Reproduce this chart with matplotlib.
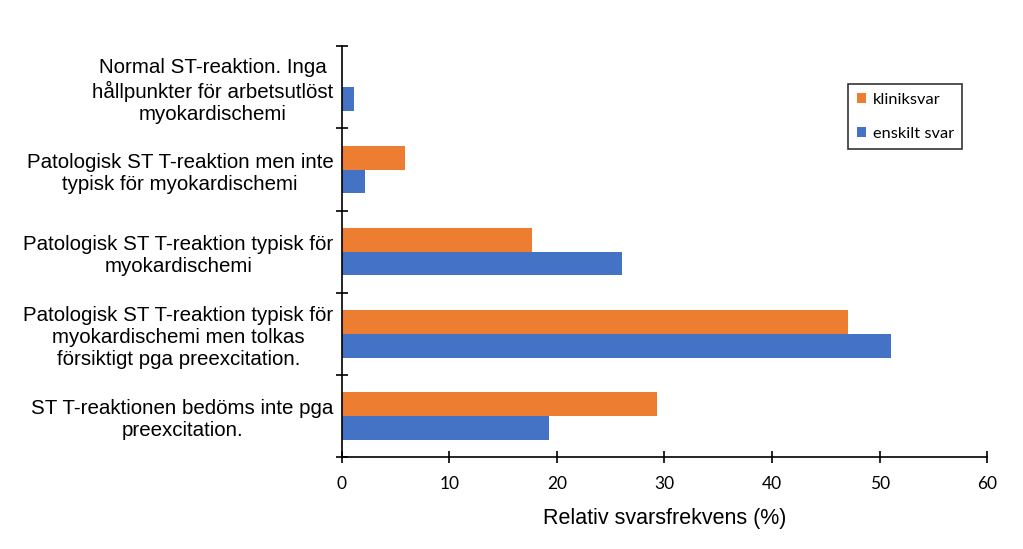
import matplotlib.pyplot as plt
import numpy as np

# data (top to bottom)
categories = [
    'Normal ST-reaktion. Inga\nhållpunkter för arbetsutlöst\nmyokardischemi',
    'Patologisk ST T-reaktion men inte\ntypisk för myokardischemi',
    'Patologisk ST T-reaktion typisk för\nmyokardischemi',
    'Patologisk ST T-reaktion typisk för\nmyokardischemi men tolkas\nförsiktigt pga preexcitation.',
    'ST T-reaktionen bedöms inte pga\npreexcitation.',
]
kliniksvar = [0.0, 5.9, 17.7, 47.1, 29.3]
enskilt_svar = [1.1, 2.2, 26.1, 51.1, 19.3]
x_ticks = [0, 10, 20, 30, 40, 50, 60]

orange = '#ED7D31'
blue = '#4472C4'

fig = plt.figure(figsize=(10.23, 5.49), dpi=100)
ax = fig.add_axes([0.334, 0.1676, 0.631, 0.748])

n = len(categories)
y = np.arange(n)[::-1]  # first category at top
h = 0.29

ax.barh(y + h / 2, kliniksvar, h, color=orange, label='kliniksvar')
ax.barh(y - h / 2, enskilt_svar, h, color=blue, label='enskilt svar')

ax.set_ylim(-0.5, n - 0.5)
ax.set_xlim(0, 60)

# category labels at centres, tick marks at boundaries
ax.set_yticks(y)
ax.set_yticklabels(categories, fontsize=14.8, family='Liberation Sans',
                   multialignment='center', linespacing=1.2)
ax.tick_params(axis='y', which='major', length=0, pad=6)
ax.set_yticks(np.arange(-0.5, n, 1.0), minor=True)
ax.tick_params(axis='y', which='minor', direction='inout', length=8, width=1.2)

ax.set_xticks(x_ticks)
ax.set_xticklabels([str(v) for v in x_ticks], fontsize=12.5, family='Lato')
ax.tick_params(axis='x', direction='inout', length=8, width=1.2, pad=10)

ax.spines['top'].set_visible(False)
ax.spines['right'].set_visible(False)
ax.spines['left'].set_linewidth(1.2)
ax.spines['bottom'].set_linewidth(1.2)

ax.set_xlabel('Relativ svarsfrekvens (%)', fontsize=15.5, family='Liberation Sans',
              labelpad=11)

leg = ax.legend(loc='upper left', bbox_to_anchor=(0.785, 0.9075), borderaxespad=0,
                prop={'family': 'Lato', 'size': 11.8},
                frameon=True, fancybox=False, edgecolor='black', handlelength=0.6,
                handleheight=0.6, labelspacing=1.25, borderpad=0.5, handletextpad=0.4)
leg.get_frame().set_linewidth(1.2)

plt.savefig('out.png', dpi=100)
